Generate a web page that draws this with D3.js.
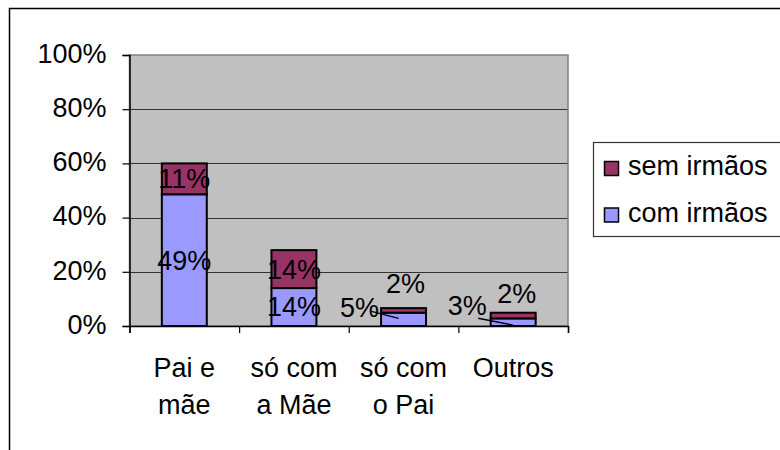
<!DOCTYPE html>
<html>
<head>
<meta charset="utf-8">
<script src="https://cdn.jsdelivr.net/npm/d3@7"></script>
<style>
  body { margin: 0; background: #fff; }
  text { font-family: Arial, "Liberation Sans", sans-serif; font-size: 27px; fill: #000; }
</style>
</head>
<body>
<div id="chart"></div>
<script>
// categories and series (values in %)
var categories = [["Pai e", "mãe"], ["só com", "a Mãe"], ["só com", "o Pai"], ["Outros"]];
var comIrmaos  = [48.6, 14, 4.9, 2.8];
var semIrmaos  = [11.4, 14, 1.7, 2.1];
var yTicks     = [0, 20, 40, 60, 80, 100];
var seriesNames = ["com irmãos", "sem irmãos"];

var colors = {"com irmãos": "#9999ff", "sem irmãos": "#993366"};

// manually moved labels (like in the spreadsheet), offsets from segment centre
var labelMoves = {
  "0-2": {dx: -44, dy: -12, leader: [12, 4, -5, -1]},
  "1-2": {dx: 2, dy: -27},
  "0-3": {dx: -46, dy: -17, leader: [11, 13, 0, 3]},
  "1-3": {dx: 3.5, dy: -22.5}
};

var W = 780, H = 450;
var plot = {left: 129.5, right: 568, top: 55, bottom: 326};

var svg = d3.select("#chart").append("svg")
  .attr("width", W)
  .attr("height", H);

// chart border (runs past the window on right/bottom)
svg.append("rect")
  .attr("x", 9.5).attr("y", 8.5)
  .attr("width", 900).attr("height", 600)
  .attr("fill", "#fff")
  .attr("stroke", "#000")
  .attr("stroke-width", 1.5);

var y = d3.scaleLinear().domain([0, 100]).range([plot.bottom, plot.top]);
var x = d3.scaleBand()
  .domain(d3.range(categories.length))
  .range([plot.left, plot.right])
  .paddingInner(0.59)
  .paddingOuter(0.295);
var xEdge = d3.scaleLinear().domain([0, categories.length]).range([plot.left, plot.right]);

// plot area
svg.append("rect")
  .attr("x", plot.left).attr("y", plot.top)
  .attr("width", plot.right - plot.left)
  .attr("height", plot.bottom - plot.top)
  .attr("fill", "#c0c0c0");

svg.append("g")
  .selectAll("line")
  .data(yTicks.filter(function(d) { return d > 0 && d < 100; }))
  .enter().append("line")
  .attr("x1", plot.left).attr("x2", plot.right)
  .attr("y1", function(d) { return Math.round(y(d)) + 0.5; })
  .attr("y2", function(d) { return Math.round(y(d)) + 0.5; })
  .attr("stroke", "#333")
  .attr("stroke-width", 1.2);

svg.append("rect")
  .attr("x", plot.left).attr("y", plot.top)
  .attr("width", plot.right - plot.left)
  .attr("height", plot.bottom - plot.top)
  .attr("fill", "none")
  .attr("stroke", "#808080")
  .attr("stroke-width", 1.5);

// stacked data
var stackData = categories.map(function(c, i) {
  return {i: i, "com irmãos": comIrmaos[i], "sem irmãos": semIrmaos[i]};
});
var stacked = d3.stack().keys(seriesNames)(stackData);

var layers = svg.append("g").selectAll("g")
  .data(stacked)
  .enter().append("g")
  .attr("fill", function(d) { return colors[d.key]; });

layers.selectAll("rect")
  .data(function(d) { return d; })
  .enter().append("rect")
  .attr("x", function(d) { return x(d.data.i); })
  .attr("width", x.bandwidth())
  .attr("y", function(d) { return y(d[1]); })
  .attr("height", function(d) { return y(d[0]) - y(d[1]); })
  .attr("stroke", "#000")
  .attr("stroke-width", 2);

// axes
var yAxis = d3.axisLeft(y)
  .tickValues(yTicks)
  .tickFormat(function(d) { return d + "%"; })
  .tickSize(7)
  .tickPadding(16);

var gy = svg.append("g")
  .attr("transform", "translate(" + plot.left + ",0)")
  .call(yAxis);
gy.selectAll("text").attr("dy", "0.27em").style("font-size", "27px").style("font-family", null);
gy.select(".domain").attr("stroke", "#000").attr("stroke-width", 1.5);
gy.selectAll(".tick line").attr("stroke", "#000").attr("stroke-width", 1.2);

var xAxis = d3.axisBottom(xEdge)
  .tickValues(d3.range(categories.length + 1))
  .tickFormat("")
  .tickSizeOuter(0)
  .tickSize(7);

var gx = svg.append("g")
  .attr("transform", "translate(0," + plot.bottom + ")")
  .call(xAxis);
gx.select(".domain").attr("stroke", "#000").attr("stroke-width", 1.5);
gx.selectAll(".tick line").attr("stroke", "#000").attr("stroke-width", 1.2);

// category labels (two lines)
var catText = svg.append("g").selectAll("text")
  .data(categories)
  .enter().append("text")
  .attr("text-anchor", "middle")
  .attr("x", function(d, i) { return x(i) + x.bandwidth() / 2; })
  .attr("y", 377);
catText.selectAll("tspan")
  .data(function(d) { return d; })
  .enter().append("tspan")
  .attr("x", function() { return d3.select(this.parentNode).attr("x"); })
  .attr("dy", function(d, j) { return j === 0 ? 0 : 37; })
  .text(function(d) { return d; });

// data labels
var labelG = svg.append("g");
stacked.forEach(function(layer, s) {
  layer.forEach(function(d, i) {
    var cx = x(i) + x.bandwidth() / 2;
    var cy = (y(d[0]) + y(d[1])) / 2;
    var mv = labelMoves[s + "-" + i] || {dx: 0, dy: 0};
    var lx = cx + mv.dx, ly = cy + mv.dy;
    if (mv.leader) {
      labelG.append("line")
        .attr("x1", lx + mv.leader[0]).attr("y1", ly + mv.leader[1])
        .attr("x2", cx + mv.leader[2]).attr("y2", cy + mv.leader[3])
        .attr("stroke", "#000")
        .attr("stroke-width", 1.5);
    }
    labelG.append("text")
      .attr("x", lx)
      .attr("y", ly)
      .attr("dy", "0.35em")
      .attr("text-anchor", "middle")
      .text(Math.round(d[1] - d[0]) + "%");
  });
});

// legend
var legend = svg.append("g");
legend.append("rect")
  .attr("x", 593.5).attr("y", 142.5)
  .attr("width", 300).attr("height", 94)
  .attr("fill", "#fff")
  .attr("stroke", "#333")
  .attr("stroke-width", 1.2);

var legendItems = seriesNames.slice().reverse();
legendItems.forEach(function(name, k) {
  var base = 175 + k * 46.5;
  legend.append("rect")
    .attr("x", 604.5).attr("y", base - 13.5)
    .attr("width", 14).attr("height", 14)
    .attr("fill", colors[name])
    .attr("stroke", "#000")
    .attr("stroke-width", 1.5);
  legend.append("text")
    .attr("x", 628)
    .attr("y", base)
    .text(name);
});
</script>
</body>
</html>
